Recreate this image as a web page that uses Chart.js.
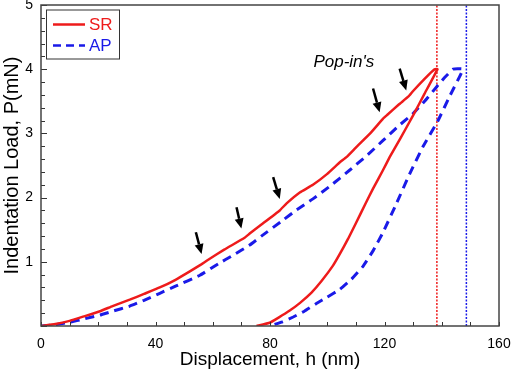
<!DOCTYPE html>
<html>
<head>
<meta charset="utf-8">
<script src="https://cdn.jsdelivr.net/npm/chart.js@4.4.1/dist/chart.umd.min.js"></script>
<style>
  html, body { margin: 0; padding: 0; background: #fff; }
  canvas { display: block; }
</style>
</head>
<body>
<canvas id="chart" width="512" height="374"></canvas>
<script>
// SR curve: loading then unloading (h in nm, P in mN)
const srH = [0, 5, 10, 15, 20.6, 25, 31, 36, 41.5, 47, 52, 56, 58, 64, 71, 72.9, 77, 83.4, 85.8, 90.4, 95, 100, 104.4, 106.7, 110, 115, 119.5, 121, 125, 128.5, 130, 134, 137.5, 138.5,
             134, 130, 125.5, 121.8, 119.5, 116, 113.3, 110, 107.3, 104.5, 102, 98, 94.5, 90.5, 86.9, 83, 79.9, 75.3];
const srP = [0, 0.03, 0.08, 0.15, 0.23, 0.31, 0.41, 0.5, 0.6, 0.72, 0.85, 0.96, 1.02, 1.19, 1.37, 1.44, 1.58, 1.8, 1.91, 2.08, 2.2, 2.37, 2.55, 2.63, 2.78, 3.0, 3.23, 3.29, 3.45, 3.58, 3.66, 3.85, 4.0, 4.0,
             3.62, 3.28, 2.92, 2.63, 2.43, 2.14, 1.9, 1.6, 1.36, 1.13, 0.94, 0.7, 0.52, 0.36, 0.24, 0.13, 0.05, 0];

// AP curve: loading then unloading
const apH = [0, 5, 10, 15, 20.6, 25, 31, 36, 41.5, 47, 55.5, 62, 67, 72.9, 77, 84.6, 89, 95, 101, 107.9, 113.7, 119.5, 125, 130, 134, 138.1, 141, 144, 147.4,
             143, 138.7, 133.4, 128.8, 124.2, 119.5, 116, 112.5, 108.5, 104.4, 100, 96.2, 92, 88.1, 84, 79.9];
const apP = [0, 0.02, 0.06, 0.11, 0.17, 0.23, 0.31, 0.4, 0.51, 0.62, 0.79, 0.97, 1.1, 1.26, 1.4, 1.65, 1.8, 1.98, 2.18, 2.43, 2.65, 2.89, 3.12, 3.31, 3.5, 3.72, 3.87, 4.0, 4.0,
             3.6, 3.2, 2.79, 2.37, 1.91, 1.46, 1.17, 0.93, 0.73, 0.57, 0.45, 0.35, 0.23, 0.14, 0.06, 0];

// maximum depth markers (dotted verticals)
const srMaxH = 138.3;
const apMaxH = 148.6;
const markerP = [0, 5];

// pop-in arrows: tail -> tip
const arrowTailH = [54.1, 68.3, 81.1, 116, 125.3];
const arrowTailP = [1.46, 1.85, 2.32, 3.70, 4.01];
const arrowTipH = [56.1, 70, 83.4, 118.3, 127.6];
const arrowTipP = [1.12, 1.52, 1.98, 3.33, 3.67];
const noteText = "Pop-in's";
const noteH = 105.8;
const noteP = 4.11;

const seriesNames = ['SR', 'AP'];

const RED = '#ee1b1b';
const BLUE = '#1a1ae8';
const FONT = "'Liberation Sans', Arial, sans-serif";

function toPoints(xs, ys) {
  return xs.map((x, i) => ({ x: x, y: ys[i] }));
}

// inward tick marks, frame, arrows, note and legend
const decorPlugin = {
  id: 'decor',
  afterDatasetsDraw(chart) {
    const { ctx, chartArea: a, scales: { x, y } } = chart;
    ctx.save();

    // tick marks pointing into the plot
    ctx.strokeStyle = '#333';
    ctx.lineWidth = 1;
    x.ticks.forEach(t => {
      const px = Math.round(x.getPixelForValue(t.value)) + 0.5;
      ctx.beginPath();
      ctx.moveTo(px, a.bottom);
      ctx.lineTo(px, a.bottom - 4);
      ctx.stroke();
    });
    y.ticks.forEach(t => {
      const py = Math.round(y.getPixelForValue(t.value)) + 0.5;
      const major = Math.abs(t.value - Math.round(t.value)) < 1e-6;
      ctx.beginPath();
      ctx.moveTo(a.left, py);
      ctx.lineTo(a.left + (major ? 6 : 4), py);
      ctx.stroke();
    });

    // frame
    ctx.strokeStyle = '#444';
    ctx.lineWidth = 1.5;
    ctx.strokeRect(a.left, a.top, a.right - a.left, a.bottom - a.top);

    // arrows
    ctx.strokeStyle = '#000';
    ctx.fillStyle = '#000';
    ctx.lineWidth = 2.5;
    arrowTailH.forEach((h, i) => {
      const x0 = x.getPixelForValue(h), y0 = y.getPixelForValue(arrowTailP[i]);
      const x1 = x.getPixelForValue(arrowTipH[i]), y1 = y.getPixelForValue(arrowTipP[i]);
      const ang = Math.atan2(y1 - y0, x1 - x0);
      const head = 10, half = 4.5;
      const bx = x1 - head * Math.cos(ang), by = y1 - head * Math.sin(ang);
      ctx.beginPath();
      ctx.moveTo(x0, y0);
      ctx.lineTo(bx, by);
      ctx.stroke();
      ctx.beginPath();
      ctx.moveTo(x1, y1);
      ctx.lineTo(bx + half * Math.sin(ang), by - half * Math.cos(ang));
      ctx.lineTo(bx - half * Math.sin(ang), by + half * Math.cos(ang));
      ctx.closePath();
      ctx.fill();
    });

    // note
    ctx.font = 'italic 17px ' + FONT;
    ctx.textAlign = 'center';
    ctx.textBaseline = 'middle';
    ctx.fillStyle = '#000';
    ctx.fillText(noteText, x.getPixelForValue(noteH), y.getPixelForValue(noteP));

    // legend box
    const lx = a.left + 5, ly = a.top + 4.5;
    ctx.fillStyle = '#fff';
    ctx.fillRect(lx, ly, 73, 49);
    ctx.strokeStyle = '#333';
    ctx.lineWidth = 1;
    ctx.strokeRect(lx + 0.5, ly + 0.5, 73, 49);
    const colors = [RED, BLUE];
    const dashes = [[], [8, 5]];
    ctx.font = '17px ' + FONT;
    ctx.textAlign = 'left';
    seriesNames.forEach((name, i) => {
      const yy = ly + 15 + i * 21;
      ctx.strokeStyle = colors[i];
      ctx.lineWidth = 2.5;
      ctx.setLineDash(dashes[i]);
      ctx.beginPath();
      ctx.moveTo(lx + 7, yy);
      ctx.lineTo(lx + 39, yy);
      ctx.stroke();
      ctx.setLineDash([]);
      ctx.fillStyle = colors[i];
      ctx.fillText(name, lx + 43, yy + 1);
    });

    ctx.restore();
  }
};

new Chart(document.getElementById('chart'), {
  type: 'line',
  data: {
    datasets: [
      {
        label: seriesNames[0],
        data: toPoints(srH, srP),
        borderColor: RED,
        borderWidth: 2.5,
        pointRadius: 0,
        tension: 0.1,
        fill: false
      },
      {
        label: seriesNames[1],
        data: toPoints(apH, apP),
        borderColor: BLUE,
        borderWidth: 3,
        borderDash: [9, 6],
        pointRadius: 0,
        tension: 0.1,
        fill: false
      },
      {
        label: 'SR max',
        data: toPoints([srMaxH, srMaxH], markerP),
        borderColor: RED,
        borderWidth: 1.5,
        borderDash: [2, 1.5],
        pointRadius: 0
      },
      {
        label: 'AP max',
        data: toPoints([apMaxH, apMaxH], markerP),
        borderColor: BLUE,
        borderWidth: 1.5,
        borderDash: [2, 1.5],
        pointRadius: 0
      }
    ]
  },
  options: {
    responsive: false,
    animation: false,
    layout: { padding: { left: 0, right: 13, top: 5, bottom: 0 } },
    plugins: {
      legend: { display: false },
      tooltip: { enabled: false }
    },
    scales: {
      x: {
        type: 'linear',
        min: 0,
        max: 160,
        grid: { display: false, drawTicks: false },
        border: { display: false },
        ticks: {
          stepSize: 10,
          autoSkip: false,
          maxRotation: 0,
          padding: 10,
          color: '#000',
          font: { family: FONT, size: 14 },
          callback: v => (v % 40 === 0 ? v : '')
        },
        title: {
          display: true,
          text: 'Displacement, h (nm)',
          color: '#000',
          font: { family: FONT, size: 19 },
          padding: { top: 0, bottom: 3 }
        },
        afterFit: s => { s.height = 48; s.paddingLeft = 0; s.paddingRight = 0; }
      },
      y: {
        type: 'linear',
        min: 0,
        max: 5,
        grid: { display: false, drawTicks: false },
        border: { display: false },
        ticks: {
          stepSize: 0.2,
          autoSkip: false,
          padding: 8,
          color: '#000',
          font: { family: FONT, size: 14 },
          callback: v => {
            const r = Math.round(v);
            return Math.abs(v - r) < 1e-6 && r > 0 ? r : '';
          }
        },
        title: {
          display: true,
          text: 'Indentation Load, P(mN)',
          color: '#000',
          font: { family: FONT, size: 20 },
          padding: { top: 0, bottom: 0 }
        },
        afterFit: s => { s.width = 41; s.paddingTop = 0; s.paddingBottom = 0; }
      }
    }
  },
  plugins: [decorPlugin]
});
</script>
</body>
</html>
